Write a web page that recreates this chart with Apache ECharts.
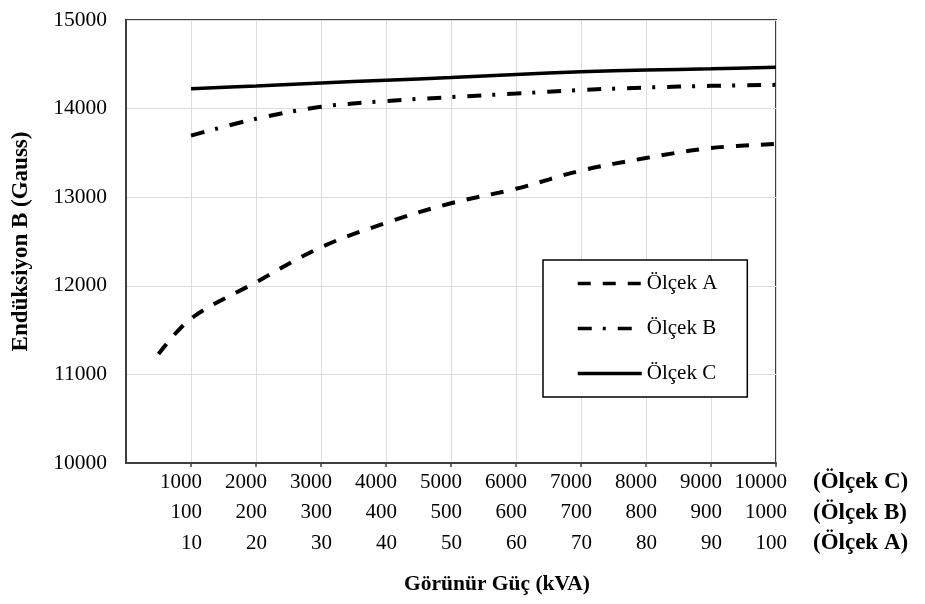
<!DOCTYPE html>
<html>
<head>
<meta charset="utf-8">
<script src="https://cdn.jsdelivr.net/npm/echarts@6/dist/echarts.min.js"></script>
<style>
  html, body { margin: 0; padding: 0; background: #fff; }
  #chart { width: 925px; height: 604px; }
</style>
</head>
<body>
<div id="chart"></div>
<script>
// x positions on the Ölçek C scale (kVA)
var powerA = [500, 1000, 2000, 3000, 4000, 5000, 6000, 7000, 8000, 9000, 10000];
var powerBC = [1000, 2000, 3000, 4000, 5000, 6000, 7000, 8000, 9000, 10000];

// Endüksiyon B (Gauss)
var olcekA = [11230, 11630, 12040, 12435, 12710, 12932, 13095, 13300, 13442, 13555, 13600];
var olcekB = [13695, 13885, 14020, 14085, 14130, 14170, 14210, 14238, 14257, 14268];
var olcekC = [14225, 14255, 14290, 14320, 14350, 14385, 14415, 14435, 14450, 14467];

// three rows of tick labels under the x axis
var labelsC = ['1000', '2000', '3000', '4000', '5000', '6000', '7000', '8000', '9000', '10000'];
var labelsB = ['100', '200', '300', '400', '500', '600', '700', '800', '900', '1000'];
var labelsA = ['10', '20', '30', '40', '50', '60', '70', '80', '90', '100'];

var font = 'Liberation Serif, Times New Roman, serif';

var pairs = function (xs, ys) {
  return xs.map(function (x, i) {
    return [x, ys[i]];
  });
};

var chart = echarts.init(document.getElementById('chart'));

chart.setOption({
  backgroundColor: '#fff',
  animation: false,
  title: {
    text: '(Ölçek C)\n(Ölçek B)\n(Ölçek A)',
    left: 813,
    top: 467,
    padding: 0,
    textStyle: {
      fontFamily: font,
      fontSize: 23,
      fontWeight: 'bold',
      color: '#000',
      lineHeight: 30.5
    }
  },
  legend: {
    orient: 'vertical',
    left: 543,
    top: 260,
    padding: [13, 30, 13, 33],
    itemGap: 24,
    itemWidth: 64,
    itemHeight: 14,
    backgroundColor: '#fff',
    borderColor: '#000',
    borderWidth: 1.5,
    borderRadius: 0,
    // hide the marker dot, keep the line
    itemStyle: { color: 'transparent', borderWidth: 0 },
    lineStyle: { width: 3.5 },
    textStyle: {
      fontFamily: font,
      fontSize: 21,
      color: '#000'
    },
    data: ['Ölçek A', 'Ölçek B', 'Ölçek C']
  },
  grid: {
    left: 126,
    right: 149,
    top: 20,
    bottom: 141,
    show: true,
    borderColor: '#3f3f3f',
    borderWidth: 2
  },
  xAxis: {
    type: 'value',
    min: 0,
    max: 10000,
    interval: 1000,
    name: 'Görünür Güç (kVA)',
    nameLocation: 'middle',
    nameGap: 110,
    nameTextStyle: {
      fontFamily: font,
      fontSize: 21.5,
      fontWeight: 'bold',
      color: '#000',
      padding: [0, 0, 0, 92]
    },
    axisLine: { show: true, lineStyle: { color: '#3f3f3f', width: 2 } },
    axisTick: { show: true, length: 4, lineStyle: { color: '#3f3f3f', width: 1.5 } },
    splitLine: { show: true, lineStyle: { color: '#dcdcdc', width: 1 } },
    axisLabel: {
      showMinLabel: false,
      margin: 4,
      align: 'right',
      padding: [0, -11, 0, 0],
      fontFamily: font,
      fontSize: 21,
      color: '#000',
      lineHeight: 30.5,
      formatter: function (v) {
        var i = v / 1000 - 1;
        if (i < 0) {
          return '';
        }
        return labelsC[i] + '\n' + labelsB[i] + '\n' + labelsA[i];
      }
    }
  },
  yAxis: {
    type: 'value',
    min: 10000,
    max: 15000,
    interval: 1000,
    name: 'Endüksiyon B (Gauss)',
    nameLocation: 'middle',
    nameGap: 93,
    nameTextStyle: {
      fontFamily: font,
      fontSize: 23,
      fontWeight: 'bold',
      color: '#000'
    },
    axisLine: { show: true, lineStyle: { color: '#3f3f3f', width: 2 } },
    axisTick: { show: false },
    splitLine: { show: true, lineStyle: { color: '#dcdcdc', width: 1 } },
    axisLabel: {
      margin: 19,
      fontFamily: font,
      fontSize: 21.5,
      color: '#000',
      formatter: function (v) {
        return String(v);
      }
    }
  },
  series: [
    {
      name: 'Ölçek A',
      type: 'line',
      smooth: 0.35,
      symbol: 'none',
      data: pairs(powerA, olcekA),
      itemStyle: { color: '#000' },
      lineStyle: { color: '#000', width: 4, type: [13, 12] }
    },
    {
      name: 'Ölçek B',
      type: 'line',
      smooth: 0.35,
      symbol: 'none',
      data: pairs(powerBC, olcekB),
      itemStyle: { color: '#000' },
      lineStyle: { color: '#000', width: 4, type: [14, 11, 3, 12] }
    },
    {
      name: 'Ölçek C',
      type: 'line',
      smooth: 0.35,
      symbol: 'none',
      data: pairs(powerBC, olcekC),
      itemStyle: { color: '#000' },
      lineStyle: { color: '#000', width: 3.5 }
    }
  ]
});
</script>
</body>
</html>
